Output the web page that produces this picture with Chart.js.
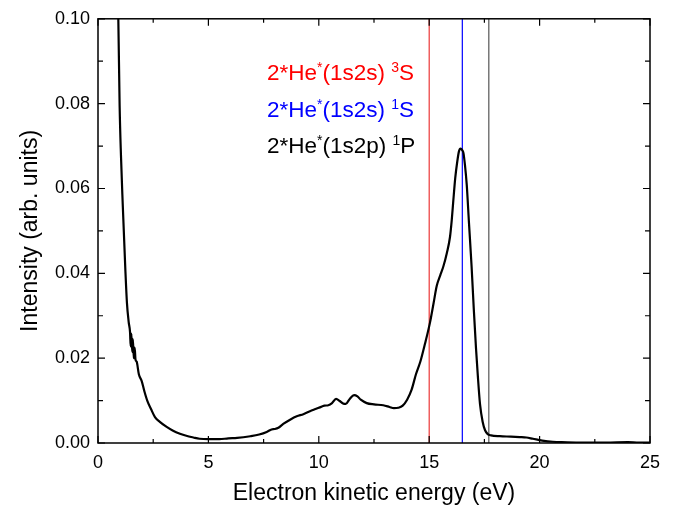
<!DOCTYPE html>
<html>
<head>
<meta charset="utf-8">
<script src="https://cdn.jsdelivr.net/npm/chart.js@4.4.0/dist/chart.umd.min.js"></script>
<style>
  html, body { margin: 0; padding: 0; background: #fff; }
  #wrap { width: 688px; height: 508px; }
</style>
</head>
<body>
<div id="wrap"><canvas id="spectrum"></canvas></div>
<script>
// electron spectrum
var energy = [0.88, 0.92, 0.98, 1.04, 1.12, 1.24, 1.31, 1.39, 1.45, 1.48, 1.51, 1.55, 1.58, 1.62, 1.66, 1.70,
  1.75, 1.85, 1.98, 2.10, 2.23, 2.40, 2.58, 2.80, 3.11, 3.40, 3.71, 4.00, 4.32, 4.6, 5.0, 5.5, 5.9, 6.3,
  6.9, 7.3, 7.64, 7.86, 8.0, 8.17, 8.39, 8.7, 9.0, 9.3, 9.6, 9.85, 10.05, 10.25, 10.43, 10.6, 10.78,
  10.95, 11.1, 11.22, 11.4, 11.6, 11.75, 11.9, 12.17, 12.5, 12.92, 13.2, 13.4, 13.6, 13.8, 14.0, 14.2,
  14.4, 14.6, 14.8, 15.04, 15.2, 15.34, 15.5, 15.64, 15.8, 15.94, 16.02, 16.09, 16.18, 16.27, 16.35,
  16.42, 16.5, 16.55, 16.62, 16.7, 16.8, 16.92, 17.02, 17.12, 17.2, 17.3, 17.42, 17.53, 17.65, 17.8,
  18.2, 18.7, 19.1, 19.4, 19.7, 19.9, 20.2, 20.6, 21.0, 21.8, 23.0, 24.0, 24.5, 25.0];
var intensity = [0.108, 0.100, 0.0794, 0.0678, 0.0563, 0.0407, 0.0331, 0.0285, 0.0262, 0.0228, 0.0258,
  0.0215, 0.0245, 0.0200, 0.0225, 0.0196, 0.0192, 0.0162, 0.0146, 0.0122, 0.0100, 0.0080, 0.0061,
  0.0050, 0.0038, 0.0029, 0.0022, 0.0017, 0.0013, 0.0010, 0.0009, 0.0009, 0.0011, 0.0012, 0.0016,
  0.0020, 0.0026, 0.0032, 0.0033, 0.0036, 0.0045, 0.0055, 0.0063, 0.0068, 0.0075, 0.0080, 0.0084,
  0.0088, 0.0089, 0.0094, 0.0104, 0.0099, 0.0093, 0.0092, 0.0104, 0.0113, 0.0110, 0.0102, 0.0094,
  0.0091, 0.0089, 0.0085, 0.0082, 0.0083, 0.0088, 0.0102, 0.0125, 0.0162, 0.0192, 0.0232, 0.0285,
  0.0330, 0.0370, 0.0395, 0.0416, 0.0448, 0.0485, 0.0525, 0.0570, 0.0625, 0.0663, 0.0688, 0.0694,
  0.0690, 0.0684, 0.0655, 0.0609, 0.0520, 0.0416, 0.0315, 0.0223, 0.0160, 0.0092, 0.0050, 0.0030,
  0.0021, 0.0018, 0.0016, 0.0015, 0.0014, 0.0013, 0.0010, 0.0008, 0.0005, 0.0003, 0.0002, 0.0001,
  0.0001, 0.0002, 0.0001, 0.0001];

// thresholds for the two-atom states
var stateNames = ['2*He*(1s2s) 3S', '2*He*(1s2s) 1S', '2*He*(1s2p) 1P'];
var stateEnergy = [15.0, 16.5, 17.7];
var stateColor = ['rgb(235,55,55)', 'rgb(0,0,255)', 'rgb(85,85,85)'];

var xTicks = [0, 5, 10, 15, 20, 25];
var yTicks = [0, 0.02, 0.04, 0.06, 0.08, 0.10];

var FONT = '"Liberation Sans", Arial, Helvetica, sans-serif';

var points = [];
for (var i = 0; i < energy.length; i++) {
  points.push({ x: energy[i], y: intensity[i] });
}

var datasets = [];
for (var j = 0; j < stateEnergy.length; j++) {
  datasets.push({
    label: stateNames[j],
    data: [{ x: stateEnergy[j], y: 0 }, { x: stateEnergy[j], y: 0.1 }],
    borderColor: stateColor[j],
    borderWidth: 1.2,
    pointRadius: 0,
    showLine: true,
    order: 2
  });
}
datasets.push({
  label: 'spectrum',
  data: points,
  borderColor: '#000',
  borderWidth: 2.2,
  pointRadius: 0,
  showLine: true,
  cubicInterpolationMode: 'monotone',
  clip: 0,
  order: 1
});

// frame + inward ticks on all four sides, plus the state labels
var framePlugin = {
  id: 'frame',
  afterDraw: function(chart) {
    var ctx = chart.ctx, a = chart.chartArea;
    var xs = chart.scales.x, ys = chart.scales.y;
    ctx.save();
    ctx.strokeStyle = '#000';
    ctx.lineWidth = 1.5;
    ctx.strokeRect(a.left, a.top, a.right - a.left, a.bottom - a.top);
    ctx.lineWidth = 1.2;
    ctx.beginPath();
    for (var v = 0; v <= 25.001; v += 2.5) {
      var px = xs.getPixelForValue(v);
      var len = (Math.round(v * 10) % 50 === 0) ? 7 : 4;
      ctx.moveTo(px, a.bottom); ctx.lineTo(px, a.bottom - len);
      ctx.moveTo(px, a.top); ctx.lineTo(px, a.top + len);
    }
    for (var k = 0; k <= 10; k++) {
      var py = ys.getPixelForValue(k * 0.01);
      var l2 = (k % 2 === 0) ? 7 : 5;
      ctx.moveTo(a.left, py); ctx.lineTo(a.left + l2, py);
      ctx.moveTo(a.right, py); ctx.lineTo(a.right - l2, py);
    }
    ctx.stroke();

    // state labels with superscripts
    var lines = [
      ['2*He', '*', '(1s2s) ', '3', 'S'],
      ['2*He', '*', '(1s2s) ', '1', 'S'],
      ['2*He', '*', '(1s2p) ', '1', 'P']
    ];
    var x0 = 267, base = [80, 117, 153];
    ctx.textBaseline = 'alphabetic';
    ctx.textAlign = 'left';
    for (var n = 0; n < lines.length; n++) {
      var x = x0;
      ctx.fillStyle = n === 0 ? 'rgb(255,0,0)' : (n === 1 ? 'rgb(0,0,255)' : '#000');
      for (var p = 0; p < lines[n].length; p++) {
        var sup = (p === 1 || p === 3);
        ctx.font = (sup ? '14px ' : '22.5px ') + FONT;
        ctx.fillText(lines[n][p], x, base[n] - (sup ? 8 : 0));
        x += ctx.measureText(lines[n][p]).width;
      }
    }
    ctx.restore();
  }
};

new Chart(document.getElementById('spectrum'), {
  type: 'scatter',
  data: { datasets: datasets },
  options: {
    responsive: true,
    maintainAspectRatio: false,
    animation: false,
    layout: { padding: { left: 0, top: 11, right: 38, bottom: 0 } },
    plugins: {
      legend: { display: false },
      tooltip: { enabled: false }
    },
    scales: {
      x: {
        type: 'linear',
        min: 0,
        max: 25,
        afterBuildTicks: function(s) { s.ticks = xTicks.map(function(v) { return { value: v }; }); },
        afterFit: function(s) { s.height = 65; },
        grid: { display: false, drawTicks: false },
        border: { display: false },
        ticks: { color: '#000', padding: 9, maxRotation: 0, font: { family: FONT, size: 18 } },
        title: {
          display: true,
          text: 'Electron kinetic energy (eV)',
          color: '#000',
          padding: { top: 0, bottom: 1 },
          font: { family: FONT, size: 23 }
        }
      },
      y: {
        type: 'linear',
        min: 0,
        max: 0.1,
        afterBuildTicks: function(s) { s.ticks = yTicks.map(function(v) { return { value: v }; }); },
        afterFit: function(s) { s.width = 98; },
        grid: { display: false, drawTicks: false },
        border: { display: false },
        ticks: {
          color: '#000',
          padding: 8,
          font: { family: FONT, size: 18 },
          callback: function(v) { return v.toFixed(2); }
        },
        title: {
          display: true,
          text: 'Intensity (arb. units)',
          color: '#000',
          padding: { top: 17, bottom: 0 },
          font: { family: FONT, size: 23 }
        }
      }
    }
  },
  plugins: [framePlugin]
});
</script>
</body>
</html>
